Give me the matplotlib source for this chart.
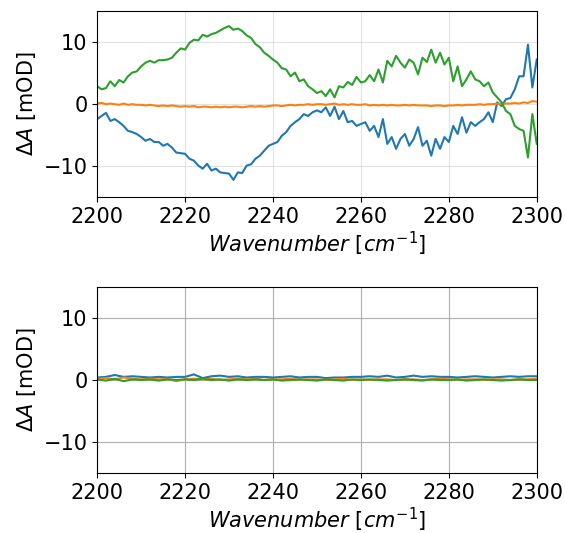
import numpy as np
import matplotlib
matplotlib.use("Agg")
import matplotlib.pyplot as plt

plt.rcParams['font.size'] = 15

# top panel, 1 cm^-1 step
wn = np.arange(2200, 2301, 1)

blue_top = [-2.4, -1.9, -1.4, -2.7, -2.4, -2.9, -3.5, -4.3, -4.5, -4.8,
            -5.3, -5.9, -5.6, -6.1, -6.1, -6.7, -6.4, -7.0, -7.8, -7.9,
            -8.0, -8.8, -9.1, -9.9, -10.4, -9.6, -10.7, -10.4, -11.0, -11.1,
            -11.2, -12.2, -11.0, -11.1, -9.9, -9.7, -8.8, -8.3, -7.5, -6.7,
            -6.4, -6.1, -5.1, -4.5, -3.5, -2.9, -2.4, -1.6, -1.9, -1.3,
            -1.0, -1.3, -0.5, -1.9, -0.4, -2.4, -1.1, -2.9, -2.7, -3.5,
            -3.2, -2.9, -4.3, -3.5, -5.3, -2.4, -6.4, -5.3, -7.2, -5.6,
            -4.8, -6.7, -5.6, -3.7, -6.7, -5.9, -8.3, -5.6, -7.2, -5.3,
            -6.1, -3.5, -4.8, -2.1, -4.6, -2.9, -3.5, -2.9, -2.4, -1.3,
            -2.9, 0.3, -0.3, 0.8, 1.0, 2.4, 4.5, 4.5, 9.6, 2.7,
            7.2]

orange_top = [0.1, 0.2, 0.0, 0.1, 0.0, -0.1, 0.1, -0.1, 0.0, -0.1,
              -0.1, -0.2, -0.1, -0.2, -0.3, -0.2, -0.3, -0.2, -0.3, -0.4,
              -0.3, -0.4, -0.3, -0.5, -0.4, -0.4, -0.5, -0.4, -0.5, -0.4,
              -0.5, -0.4, -0.4, -0.5, -0.4, -0.3, -0.4, -0.3, -0.4, -0.3,
              -0.2, -0.2, -0.3, -0.2, -0.1, -0.2, -0.1, -0.1, 0.0, -0.1,
              0.0, 0.0, -0.1, 0.0, 0.1, -0.1, 0.0, -0.1, 0.0, -0.1,
              -0.1, 0.0, -0.2, -0.1, -0.2, -0.1, -0.2, -0.1, -0.2, -0.2,
              -0.1, -0.2, -0.1, -0.2, -0.2, -0.2, -0.3, -0.2, -0.2, -0.3,
              -0.2, -0.2, -0.1, -0.2, -0.1, -0.1, -0.1, 0.0, -0.1, 0.0,
              0.0, 0.1, 0.0, 0.1, 0.1, 0.2, 0.1, 0.3, 0.2, 0.5,
              0.4]

green_top = [2.9, 2.4, 2.6, 3.7, 2.9, 3.9, 3.5, 4.5, 5.1, 5.3,
             6.1, 6.7, 7.0, 6.7, 7.1, 7.1, 7.2, 7.5, 8.3, 9.0,
             8.8, 9.9, 10.4, 10.3, 11.2, 10.9, 11.3, 11.5, 11.9, 12.3,
             12.6, 12.0, 12.2, 11.8, 11.1, 10.7, 9.7, 9.2, 8.3, 7.8,
             7.2, 6.7, 5.8, 5.6, 4.5, 5.1, 3.7, 4.0, 2.9, 2.4,
             1.8, 2.1, 1.3, 2.4, 1.1, 2.9, 2.7, 3.6, 3.1, 4.4,
             3.5, 3.7, 4.7, 3.7, 5.6, 3.5, 7.0, 6.1, 7.8, 6.7,
             5.9, 7.2, 6.7, 4.8, 7.5, 6.8, 8.8, 6.7, 8.3, 6.4,
             7.5, 3.7, 6.1, 2.9, 4.0, 5.3, 4.0, 3.7, 2.9, 3.5,
             1.9, 1.1, 0.3, -1.1, -1.6, -3.5, -4.0, -4.3, -8.6, -1.6,
             -6.4]

# bottom panel, 2 cm^-1 step
wn_b = np.arange(2200, 2301, 2)

blue_bot = [0.4, 0.5, 0.8, 0.5, 0.6, 0.5, 0.4, 0.5, 0.4, 0.5,
            0.5, 0.9, 0.3, 0.6, 0.7, 0.5, 0.6, 0.4, 0.5, 0.5,
            0.4, 0.5, 0.6, 0.4, 0.5, 0.5, 0.3, 0.4, 0.4, 0.5,
            0.5, 0.6, 0.5, 0.7, 0.4, 0.5, 0.7, 0.5, 0.6, 0.5,
            0.5, 0.4, 0.5, 0.6, 0.5, 0.4, 0.5, 0.6, 0.5, 0.6,
            0.6]

orange_bot = [0.2, 0.3, 0.1, 0.4, 0.2, 0.1, 0.2, 0.1, 0.2, -0.2,
              0.1, 0.2, 0.1, 0.2, 0.0, 0.1, 0.2, 0.1, 0.2, 0.0,
              0.1, 0.1, 0.2, 0.0, 0.1, 0.1, 0.0, 0.1, 0.2, 0.0,
              0.1, 0.0, 0.1, 0.1, 0.0, 0.1, 0.1, 0.0, 0.1, 0.2,
              0.1, 0.0, 0.1, 0.1, 0.0, 0.1, 0.1, 0.0, 0.1, 0.1,
              0.2]

green_bot = [0.1, -0.1, 0.2, -0.2, 0.1, 0.0, 0.1, -0.1, 0.1, 0.0,
             0.1, 0.0, 0.2, 0.0, 0.1, -0.1, 0.1, 0.0, 0.1, 0.0,
             0.1, -0.1, 0.0, 0.1, 0.0, -0.1, 0.1, 0.0, -0.1, 0.1,
             0.0, 0.1, 0.0, -0.1, 0.0, 0.1, 0.0, -0.1, 0.1, 0.0,
             0.0, 0.1, -0.1, 0.0, 0.1, 0.0, -0.1, 0.0, 0.1, 0.0,
             0.0]

fig = plt.figure(figsize=(5.65, 5.33), dpi=100)
ax1 = fig.add_axes([0.172, 0.630, 0.778, 0.349])
ax2 = fig.add_axes([0.172, 0.1126, 0.778, 0.349])

ax1.plot(wn, blue_top, color='C0')
ax1.plot(wn, orange_top, color='C1')
ax1.plot(wn, green_top, color='C2')

ax2.plot(wn_b, blue_bot, color='C0')
ax2.plot(wn_b, orange_bot, color='C1')
ax2.plot(wn_b, green_bot, color='C2')

for ax in (ax1, ax2):
    ax.set_xlim(2200, 2300)
    ax.set_ylim(-15, 15)
    ax.set_xticks([2200, 2220, 2240, 2260, 2280, 2300])
    ax.set_yticks([-10, 0, 10])
    ax.set_axisbelow(True)
    ax.set_xlabel(r'$Wavenumber\ [cm^{-1}]$', labelpad=2)
    ax.set_ylabel(r'$\Delta A$ [mOD]')

# top grid is much fainter than the bottom one
ax1.grid(True, alpha=0.35)
ax2.grid(True)

fig.savefig('out.png', dpi=100)
